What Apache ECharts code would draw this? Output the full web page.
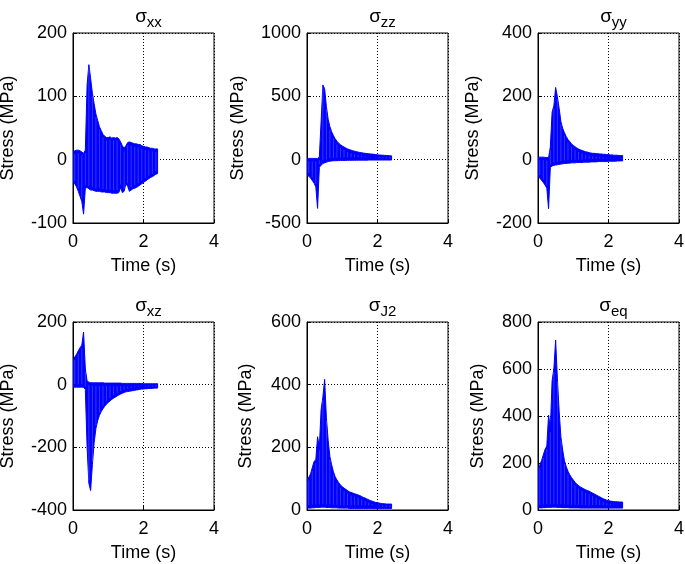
<!DOCTYPE html>
<html><head><meta charset="utf-8">
<script src="https://cdn.jsdelivr.net/npm/echarts@6/dist/echarts.min.js"></script>
<style>html,body{margin:0;padding:0;background:#fff}#c{width:685px;height:564px}</style>
</head><body><div id="c"></div>
<script>
const T = [0,0.05,0.1,0.15,0.2,0.25,0.3,0.35,0.4,0.45,0.5,0.55,0.6,0.65,0.7,0.75,0.8,0.85,0.9,0.95,1.0,1.05,1.1,1.15,1.2,1.25,1.3,1.35,1.4,1.45,1.5,1.55,1.6,1.65,1.7,1.75,1.8,1.85,1.9,1.95,2.0,2.05,2.1,2.15,2.2,2.25,2.3,2.35,2.4];
const xTicks = [0,2,4];
const titles = ['xx','zz','yy','xz','J2','eq'];

const xxHi = [12,14,15,15,14,12,10,15,118,150,128,105,88,72,62,52,46,40,37,35,35,36,34,35,34,35,33,28,22,18,22,27,28,27,26,25,25,24,24,22,21,20,20,19,18,18,17,17,17];
const xxLo = [-35,-38,-43,-50,-58,-66,-86,-45,-44,-46,-48,-48,-49,-50,-50,-50,-51,-51,-51,-52,-52,-52,-53,-53,-53,-53,-52,-44,-52,-50,-38,-42,-50,-48,-46,-45,-44,-42,-40,-38,-36,-34,-32,-30,-28,-27,-25,-23,-22];

const zzHi = [10,10,10,10,10,10,10,20,300,590,560,420,320,260,220,190,165,145,130,118,108,100,92,85,80,75,70,67,63,60,57,55,52,50,48,47,45,44,42,40,38,37,36,35,34,33,32,31,30];
const zzLo = [-120,-130,-145,-165,-185,-215,-385,-60,-45,-30,-25,-20,-15,-12,-10,-9,-8,-8,-7,-7,-6,-6,-6,-5,-5,-5,-5,-5,-4,-4,-4,-4,-4,-4,-4,-3,-3,-3,-3,-3,-3,-3,-3,-3,-3,-3,-3,-3,-3];

const yyHi = [8,8,8,8,7,7,6,40,150,170,228,199,162,120,99,85,73,64,57,50,45,41,37,34,31,29,27,25,24,22,21,20,20,19,19,18,18,17,17,16,16,15,15,14,14,14,13,13,13];
const yyLo = [-50,-58,-65,-72,-80,-90,-155,-25,-20,-18,-17,-16,-15,-14,-13,-12,-12,-11,-11,-10,-10,-10,-9,-9,-9,-9,-8,-8,-8,-8,-7,-7,-7,-7,-6,-6,-6,-6,-6,-6,-5,-5,-5,-5,-5,-4,-4,-4,-4];

const xzHi = [78,88,97,108,118,126,168,50,12,8,6,6,6,6,6,6,6,6,5,5,5,5,5,5,5,5,5,5,4,4,4,4,4,4,4,4,4,4,4,4,3,3,3,3,3,3,3,3,3];
const xzLo = [-8,-8,-8,-8,-8,-8,-8,-15,-200,-315,-338,-255,-185,-140,-115,-98,-86,-77,-69,-62,-57,-52,-47,-43,-40,-36,-33,-30,-27,-25,-23,-22,-21,-20,-19,-18,-17,-16,-15,-14,-14,-13,-13,-12,-12,-12,-11,-11,-11];

const j2Hi = [100,104,115,135,155,160,234,200,320,360,417,295,223,170,144,122,106,96,87,80,74,70,66,62,58,56,54,52,50,48,46,43,40,38,35,33,30,28,26,24,23,22,21,20,20,19,19,19,19];
const j2Lo = [5,6,6,7,7,8,8,8,9,9,9,8,8,8,7,7,7,7,6,6,6,6,6,6,5,5,5,5,5,5,5,5,5,5,5,5,5,5,5,5,5,5,5,5,5,5,5,5,5];

const eqHi = [170,191,210,234,258,272,404,345,550,600,723,560,420,310,255,210,185,165,150,138,128,118,110,104,98,94,90,86,83,80,76,72,68,64,60,56,52,48,45,42,40,38,37,36,35,35,34,34,34];
const eqLo = [8,9,9,10,10,11,11,11,12,12,12,11,11,11,10,10,10,10,9,9,9,9,9,9,8,8,8,8,8,8,8,8,8,8,8,8,8,8,8,8,8,8,8,8,8,8,8,8,8];

const yMin = [-100,-500,-200,-400,0,0];
const yMax = [200,1000,400,200,600,800];
const yStep = [100,500,200,200,200,200];

const his = [xxHi,zzHi,yyHi,xzHi,j2Hi,eqHi];
const los = [xxLo,zzLo,yyLo,xzLo,j2Lo,eqLo];

function bandRenderer(hi, lo) {
  return function (params, api) {
    if (params.dataIndex !== 0) return;
    const pts = [];
    for (let i = 0; i < T.length; i++) pts.push(api.coord([T[i], hi[i]]));
    for (let i = T.length - 1; i >= 0; i--) pts.push(api.coord([T[i], lo[i]]));
    const children = [{type: 'polygon', shape: {points: pts}, style: {fill: '#0000ff', stroke: '#0000ff', lineWidth: 1}}];
    for (let i = 1; i < T.length; i += 2) {
      const a = api.coord([T[i], hi[i]]), b = api.coord([T[i], lo[i]]);
      children.push({type: 'line', shape: {x1: a[0], y1: a[1] + 3, x2: b[0], y2: b[1] - 3},
        style: {stroke: '#ffffff', lineWidth: 0.6, opacity: 0.35}});
    }
    return {type: 'group', children};
  };
}

const FONT = 'Liberation Sans';
const FS = 18;
const lefts = [73, 307, 538];
const tops = [33, 322];
const heights = [190, 188];
const W = 141;
const nameGaps = [56, 60, 56, 56, 52, 51];

const grid = [], xAxis = [], yAxis = [], series = [], title = [];
for (let k = 0; k < 6; k++) {
  const r = Math.floor(k / 3), c = k % 3;
  grid.push({left: lefts[c], top: tops[r], width: W, height: heights[r], show: true, borderColor: '#000', borderWidth: 1, backgroundColor: '#fff', containLabel: false, outerBoundsMode: 'none'});
  xAxis.push({
    gridIndex: k, type: 'value', min: 0, max: 4, interval: 2,
    name: 'Time (s)', nameLocation: 'middle', nameGap: 34,
    nameTextStyle: {fontFamily: FONT, fontSize: FS, color: '#000'},
    axisLine: {show: true, onZero: false, lineStyle: {color: '#000', width: 1}},
    axisTick: {show: true, inside: true, length: 4, lineStyle: {color: '#000'}},
    axisLabel: {show: true, margin: 10, fontFamily: FONT, fontSize: FS, color: '#000',
      formatter: v => xTicks.indexOf(v) >= 0 ? String(v) : ''},
    splitLine: {show: true, lineStyle: {color: '#000', type: [1, 2], width: 1}}
  });
  yAxis.push({
    gridIndex: k, type: 'value', min: yMin[k], max: yMax[k], interval: yStep[k],
    name: 'Stress (MPa)', nameLocation: 'middle', nameGap: nameGaps[k], nameRotate: 90,
    nameTextStyle: {fontFamily: FONT, fontSize: FS, color: '#000'},
    axisLine: {show: true, onZero: false, lineStyle: {color: '#000', width: 1}},
    axisTick: {show: true, inside: true, length: 4, lineStyle: {color: '#000'}},
    axisLabel: {show: true, margin: 6, fontFamily: FONT, fontSize: FS, color: '#000', formatter: v => String(v)},
    splitLine: {show: true, lineStyle: {color: '#000', type: [1, 2], width: 1}}
  });
  series.push({
    type: 'custom', xAxisIndex: k, yAxisIndex: k, data: [[T[0], his[k][0]]],
    renderItem: bandRenderer(his[k], los[k]), clip: true, animation: false, silent: true
  });
  title.push({
    text: '{s|σ}{b|' + titles[k] + '}',
    left: lefts[c] + W / 2, top: tops[r] - 31, textAlign: 'center',
    textStyle: {rich: {
      s: {fontFamily: FONT, fontSize: 19, fontWeight: 'normal', color: '#000', lineHeight: 20, verticalAlign: 'top'},
      b: {fontFamily: FONT, fontSize: 15, fontWeight: 'normal', color: '#000', lineHeight: 16, padding: [8, 0, 0, 0], verticalAlign: 'top'}
    }}
  });
}

const chart = echarts.init(document.getElementById('c'), null, {renderer: 'canvas'});
chart.setOption({animation: false, backgroundColor: '#fff', title, grid, xAxis, yAxis, series});
</script></body></html>
